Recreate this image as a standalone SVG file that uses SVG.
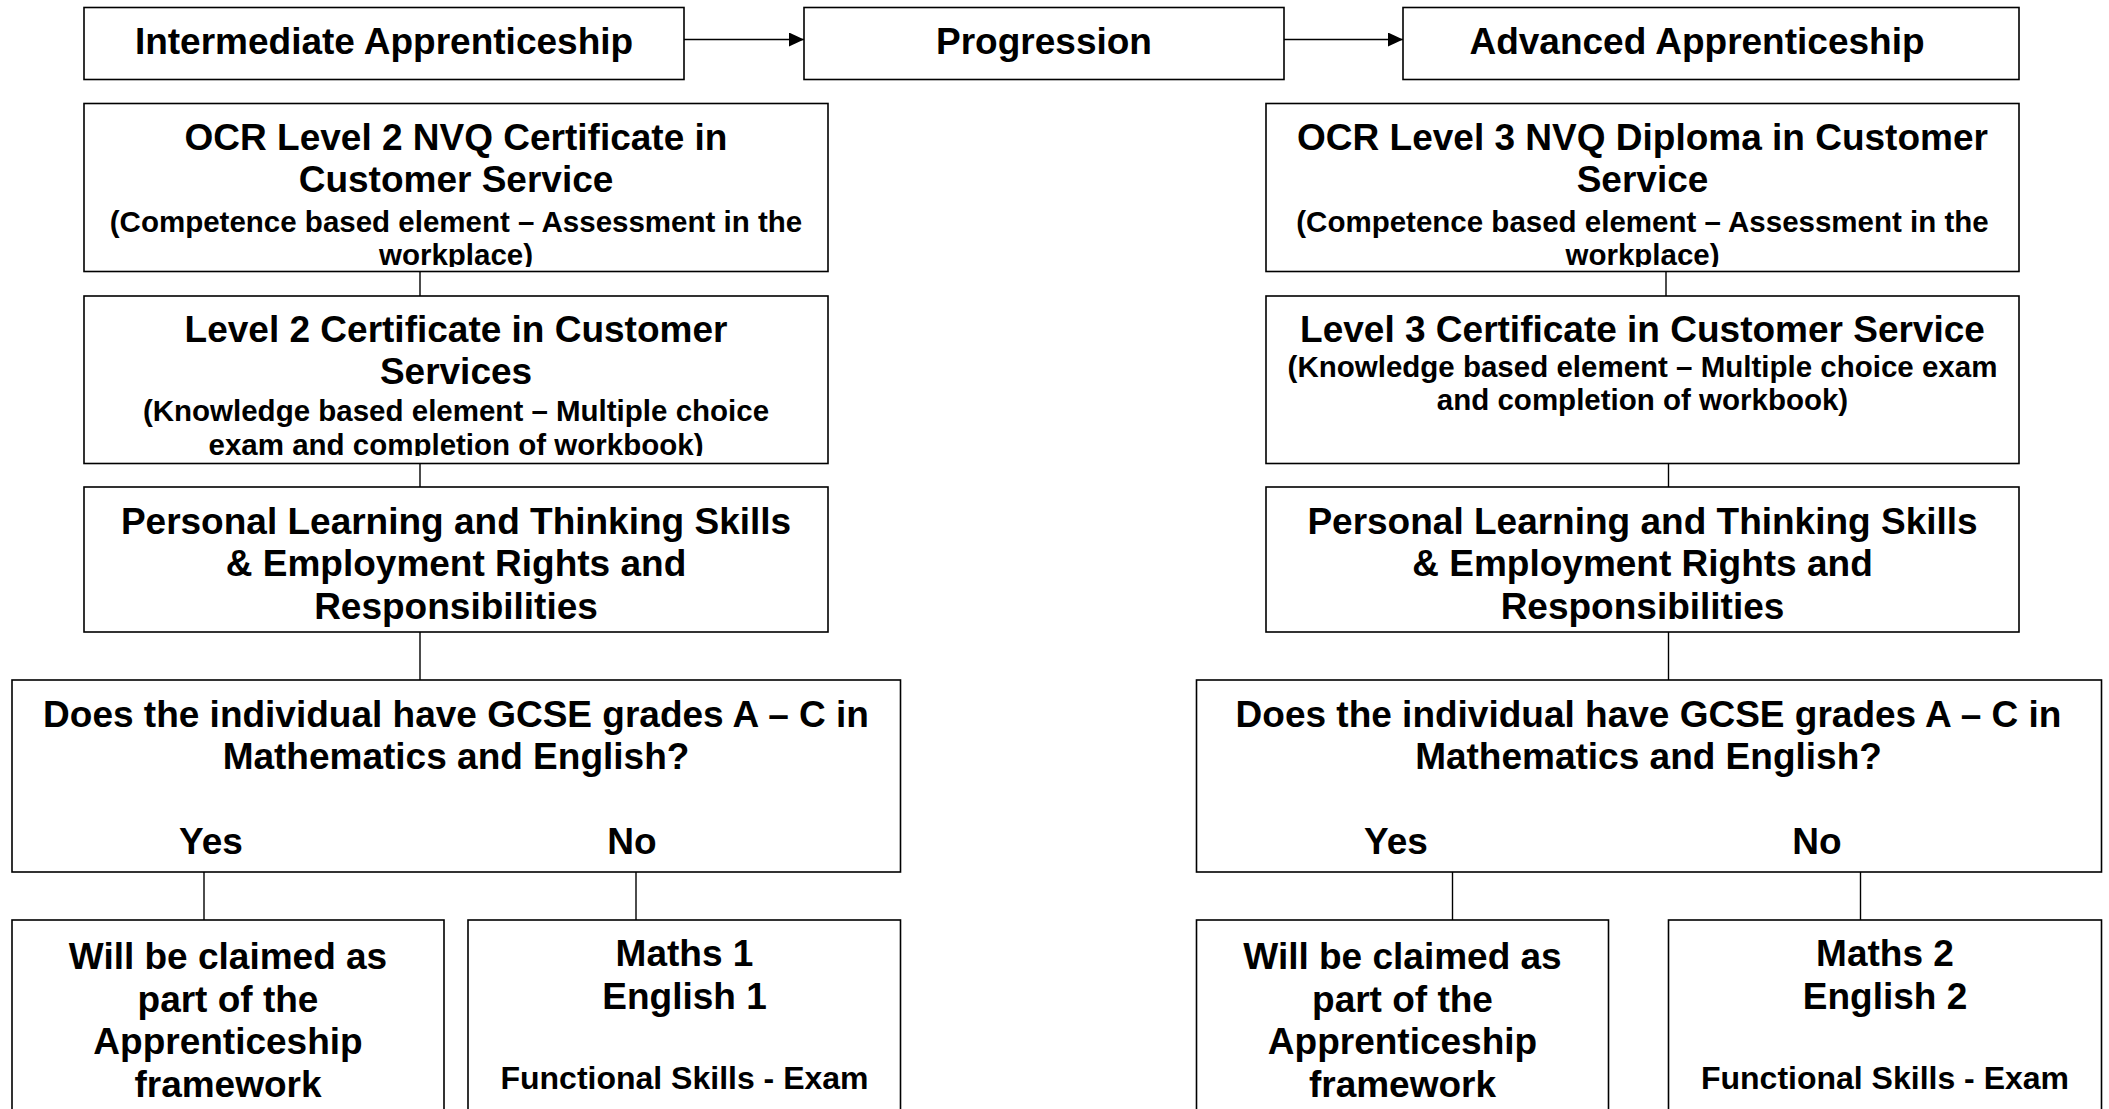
<svg xmlns="http://www.w3.org/2000/svg" width="2109" height="1109" viewBox="0 0 2109 1109">
<style>
  .box { fill: #fff; stroke: #000; stroke-width: 1.6; }
  .ln { fill: none; stroke: #000; stroke-width: 1.4; }
  text { font-family: "Liberation Sans", Arial, sans-serif; font-weight: bold; fill: #000; text-anchor: middle; }
  .m { font-size: 37px; }
  .s { font-size: 29.5px; }
  .f { font-size: 32px; }
</style>
<defs>
  <marker id="arr" markerUnits="userSpaceOnUse" markerWidth="15" markerHeight="14" refX="15" refY="7" orient="auto">
    <path d="M0,0 L15,7 L0,14 z" fill="#000"/>
  </marker>
  <clipPath id="c-ocr2"><rect x="84" y="103" width="744" height="164"/></clipPath>
  <clipPath id="c-cert2"><rect x="84" y="296" width="744" height="160"/></clipPath>
  <clipPath id="c-ocr3"><rect x="1266" y="103" width="753" height="164"/></clipPath>
</defs>
<rect width="2109" height="1109" fill="#fff"/>

<g id="connectors">
  <line class="ln" x1="684" y1="39.5" x2="804" y2="39.5" marker-end="url(#arr)"/>
  <line class="ln" x1="1284" y1="39.5" x2="1403" y2="39.5" marker-end="url(#arr)"/>
  <line class="ln" x1="420" y1="272" x2="420" y2="296"/>
  <line class="ln" x1="420" y1="463" x2="420" y2="487"/>
  <line class="ln" x1="420" y1="632" x2="420" y2="680"/>
  <line class="ln" x1="204" y1="872" x2="204" y2="920"/>
  <line class="ln" x1="636" y1="872" x2="636" y2="920"/>
  <line class="ln" x1="1666" y1="272" x2="1666" y2="296"/>
  <line class="ln" x1="1668.5" y1="463" x2="1668.5" y2="487"/>
  <line class="ln" x1="1668.5" y1="632" x2="1668.5" y2="680"/>
  <line class="ln" x1="1452.5" y1="872" x2="1452.5" y2="920"/>
  <line class="ln" x1="1860.5" y1="872" x2="1860.5" y2="920"/>
</g>

<g id="intermediate">
  <rect class="box" x="84" y="7.5" width="600" height="72"/>
  <text class="m" x="384" y="54">Intermediate Apprenticeship</text>
</g>
<g id="progression">
  <rect class="box" x="804" y="7.5" width="480" height="72"/>
  <text class="m" x="1044" y="54">Progression</text>
</g>
<g id="advanced">
  <rect class="box" x="1403" y="7.5" width="616" height="72"/>
  <text class="m" x="1697" y="54">Advanced Apprenticeship</text>
</g>

<g id="ocr-l2">
  <rect class="box" x="84" y="103.5" width="744" height="168"/>
  <g clip-path="url(#c-ocr2)">
    <text class="m" x="456" y="149.5">OCR Level 2 NVQ Certificate in</text>
    <text class="m" x="456" y="192">Customer Service</text>
    <text class="s" x="456" y="231.5">(Competence based element – Assessment in the</text>
    <text class="s" x="456" y="265">workplace)</text>
  </g>
</g>
<g id="cert-l2">
  <rect class="box" x="84" y="296" width="744" height="167.5"/>
  <g clip-path="url(#c-cert2)">
    <text class="m" x="456" y="341.5">Level 2 Certificate in Customer</text>
    <text class="m" x="456" y="384">Services</text>
    <text class="s" x="456" y="421">(Knowledge based element – Multiple choice</text>
    <text class="s" x="456" y="454.5">exam and completion of workbook)</text>
  </g>
</g>
<g id="plts-l2">
  <rect class="box" x="84" y="487" width="744" height="145"/>
  <text class="m" x="456" y="533.5">Personal Learning and Thinking Skills</text>
  <text class="m" x="456" y="576">&amp; Employment Rights and</text>
  <text class="m" x="456" y="618.5">Responsibilities</text>
</g>
<g id="gcse-l2">
  <rect class="box" x="12" y="680" width="888.5" height="192"/>
  <text class="m" x="456" y="727">Does the individual have GCSE grades A – C in</text>
  <text class="m" x="456" y="768.5">Mathematics and English?</text>
  <text class="m" x="211" y="854">Yes</text>
  <text class="m" x="632" y="854">No</text>
</g>
<g id="yes-l2">
  <rect class="box" x="12" y="920" width="432" height="220"/>
  <text class="m" x="228" y="969">Will be claimed as</text>
  <text class="m" x="228" y="1011.5">part of the</text>
  <text class="m" x="228" y="1054">Apprenticeship</text>
  <text class="m" x="228" y="1096.5">framework</text>
</g>
<g id="no-l2">
  <rect class="box" x="468" y="920" width="432.5" height="220"/>
  <text class="m" x="684.5" y="966">Maths 1</text>
  <text class="m" x="684.5" y="1008.5">English 1</text>
  <text class="f" x="684.5" y="1089">Functional Skills - Exam</text>
</g>

<g id="ocr-l3">
  <rect class="box" x="1266" y="103.5" width="753" height="168"/>
  <g clip-path="url(#c-ocr3)">
    <text class="m" x="1642.5" y="149.5">OCR Level 3 NVQ Diploma in Customer</text>
    <text class="m" x="1642.5" y="192">Service</text>
    <text class="s" x="1642.5" y="231.5">(Competence based element – Assessment in the</text>
    <text class="s" x="1642.5" y="265">workplace)</text>
  </g>
</g>
<g id="cert-l3">
  <rect class="box" x="1266" y="296" width="753" height="167.5"/>
  <text class="m" x="1642.5" y="341.5">Level 3 Certificate in Customer Service</text>
  <text class="s" x="1642.5" y="376.5">(Knowledge based element – Multiple choice exam</text>
  <text class="s" x="1642.5" y="410">and completion of workbook)</text>
</g>
<g id="plts-l3">
  <rect class="box" x="1266" y="487" width="753" height="145"/>
  <text class="m" x="1642.5" y="533.5">Personal Learning and Thinking Skills</text>
  <text class="m" x="1642.5" y="576">&amp; Employment Rights and</text>
  <text class="m" x="1642.5" y="618.5">Responsibilities</text>
</g>
<g id="gcse-l3">
  <rect class="box" x="1196.5" y="680" width="905" height="192"/>
  <text class="m" x="1648.5" y="727">Does the individual have GCSE grades A – C in</text>
  <text class="m" x="1648.5" y="768.5">Mathematics and English?</text>
  <text class="m" x="1396" y="854">Yes</text>
  <text class="m" x="1817" y="854">No</text>
</g>
<g id="yes-l3">
  <rect class="box" x="1196.5" y="920" width="412" height="220"/>
  <text class="m" x="1402.5" y="969">Will be claimed as</text>
  <text class="m" x="1402.5" y="1011.5">part of the</text>
  <text class="m" x="1402.5" y="1054">Apprenticeship</text>
  <text class="m" x="1402.5" y="1096.5">framework</text>
</g>
<g id="no-l3">
  <rect class="box" x="1668.5" y="920" width="433" height="220"/>
  <text class="m" x="1885" y="966">Maths 2</text>
  <text class="m" x="1885" y="1008.5">English 2</text>
  <text class="f" x="1885" y="1089">Functional Skills - Exam</text>
</g>
</svg>
